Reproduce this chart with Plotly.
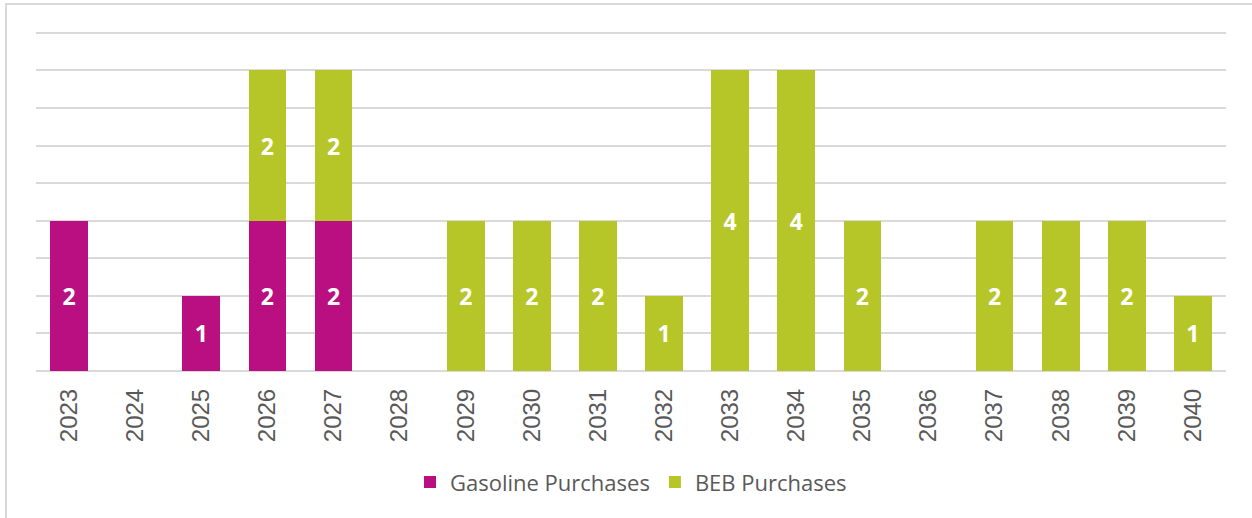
import plotly.graph_objects as go

years = [str(y) for y in range(2023, 2041)]
gasoline = [2, 0, 1, 2, 2, 0, 0, 0, 0, 0, 0, 0, 0, 0, 0, 0, 0, 0]
beb = [0, 0, 0, 2, 2, 0, 2, 2, 2, 1, 4, 4, 2, 0, 2, 2, 2, 1]

MAGENTA = '#BA0F80'
GREEN = '#B6C628'


def labels(vals):
    return [str(v) if v else '' for v in vals]


fig = go.Figure()
fig.add_trace(go.Bar(
    x=years, y=gasoline, name='Gasoline Purchases',
    marker=dict(color=MAGENTA, line=dict(width=0)),
    text=labels(gasoline), textposition='inside', insidetextanchor='middle',
    textfont=dict(color='white', size=23, family='Open Sans', weight='bold'),
    hoverinfo='x+y'
))
fig.add_trace(go.Bar(
    x=years, y=beb, name='BEB Purchases',
    marker=dict(color=GREEN, line=dict(width=0)),
    text=labels(beb), textposition='inside', insidetextanchor='middle',
    textfont=dict(color='white', size=23, family='Open Sans', weight='bold'),
    hoverinfo='x+y'
))

fig.update_layout(
    width=1252, height=518,
    barmode='stack', bargap=0.43,
    margin=dict(l=36, r=26, t=29, b=147),
    paper_bgcolor='white', plot_bgcolor='white',
    uniformtext=dict(mode='show', minsize=10),
    showlegend=True,
    legend=dict(
        orientation='h', x=0.5, xanchor='center', y=-0.325, yanchor='middle',
        font=dict(family='Open Sans', size=22, color='#595959'),
        itemwidth=30, traceorder='normal'
    ),
    shapes=[dict(
        type='rect', xref='paper', yref='paper',
        x0=-0.0252, x1=1.05, y0=-0.5, y1=1.0731,
        line=dict(color='#D9D9D9', width=2), layer='below'
    )]
)

fig.update_xaxes(
    tickangle=-90, showgrid=False, showline=False, ticks='',
    ticklabelstandoff=12,
    tickfont=dict(family='Liberation Sans', size=24, color='#595959')
)
fig.update_yaxes(
    range=[0, 4.55], tickvals=[i * 0.5 for i in range(10)],
    showticklabels=False, showgrid=True,
    gridcolor='#D9D9D9', gridwidth=2, zeroline=True, zerolinecolor='#D9D9D9',
    zerolinewidth=2, showline=False
)

# drop the default page margin so the figure sits at the window's corner
fig.write_html("out.html", config={'displayModeBar': False},
               post_script="document.body.style.margin='0';")
